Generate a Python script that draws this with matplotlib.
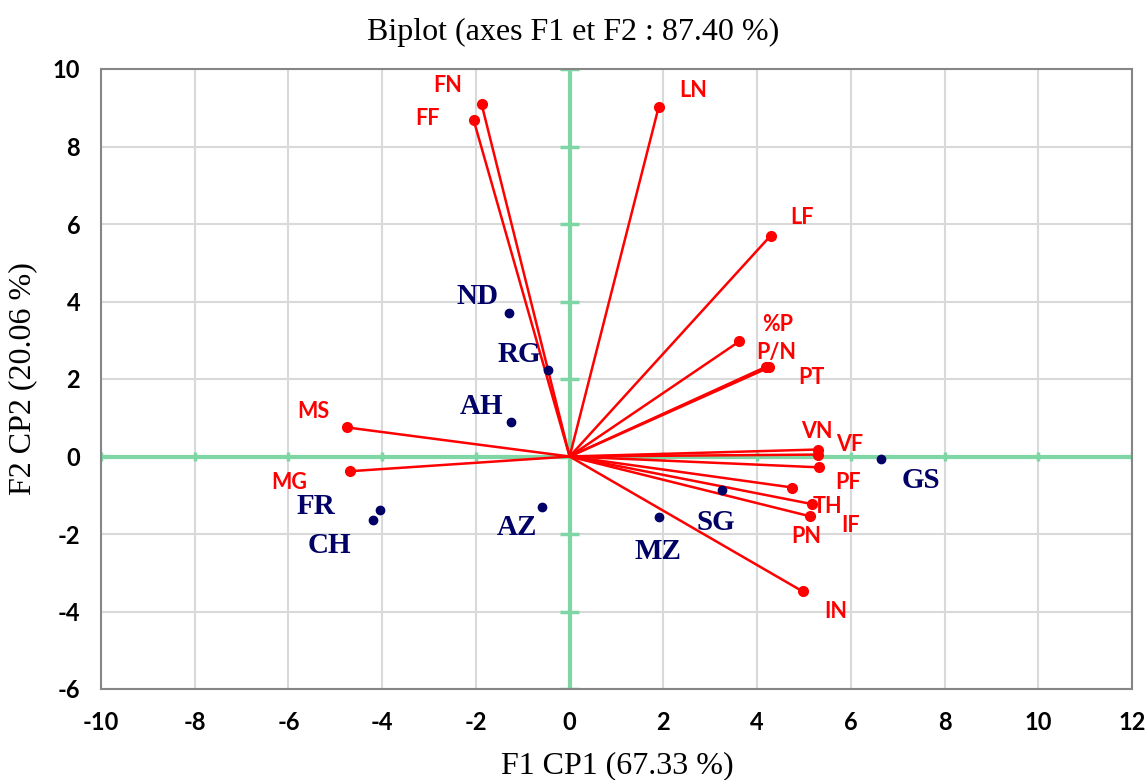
import matplotlib
matplotlib.use("Agg")
import matplotlib.pyplot as plt
import numpy as np

plt.rcParams["axes.unicode_minus"] = False

# Variables (red vectors)
var_names = ["FN", "FF", "LN", "LF", "%P", "P/N", "PT", "VN", "VF", "PF", "IF", "TH", "PN", "IN", "MS", "MG"]
var_x = [-1.88, -2.05, 1.90, 4.29, 3.62, 4.20, 4.26, 5.29, 5.31, 5.33, 4.75, 5.18, 5.12, 4.97, -4.75, -4.69]
var_y = [9.10, 8.69, 9.02, 5.70, 2.97, 2.32, 2.30, 0.18, 0.05, -0.28, -0.80, -1.23, -1.54, -3.48, 0.75, -0.38]

# Observations (navy points)
obs_names = ["ND", "RG", "AH", "FR", "CH", "AZ", "MZ", "SG", "GS"]
obs_x = [-1.30, -0.47, -1.26, -4.05, -4.20, -0.58, 1.90, 3.26, 6.65]
obs_y = [3.71, 2.22, 0.88, -1.39, -1.65, -1.31, -1.57, -0.87, -0.07]

x_ticks = list(range(-10, 13, 2))
y_ticks = list(range(-6, 11, 2))

title = "Biplot (axes F1 et F2 : 87.40 %)"
xlabel = "F1 CP1 (67.33 %)"
ylabel = "F2 CP2 (20.06 %)"

# label offsets in pixels (dx, dy) relative to the point
var_off = {"FN": (-34, 18), "FF": (-46, 1), "LN": (35, 16), "LF": (31, 18), "%P": (38, 17),
           "P/N": (10, 14), "PT": (42, -10), "VN": (-1, 18), "VF": (31, 10), "PF": (29, -15),
           "IF": (58, -38), "TH": (15, -2), "PN": (-3, -20), "IN": (33, -20),
           "MS": (-34, 16), "MG": (-61, -11)}
obs_off = {"ND": (-31, 16), "RG": (-28, 16), "AH": (-29, 16), "FR": (-64, 4), "CH": (-43, -25),
           "AZ": (-26, -20), "MZ": (-1, -34), "SG": (-7, -32), "GS": (40, -21)}

W, H = 1147, 780
fig = plt.figure(figsize=(W / 100, H / 100), dpi=100)
ax = fig.add_axes([101 / W, (780 - 689) / H, (1132 - 101) / W, (689 - 69) / H])

ax.set_xlim(-10, 12)
ax.set_ylim(-6, 10)
ax.set_xticks(x_ticks)
ax.set_yticks(y_ticks)
ax.grid(True, color="#d9d9d9", lw=1.5, zorder=0)
ax.set_axisbelow(True)
for s in ax.spines.values():
    s.set_color("#868686")
    s.set_linewidth(1.5)
ax.tick_params(length=0)
ax.tick_params(axis="x", pad=16)
ax.tick_params(axis="y", pad=15)
ax.set_xticklabels([str(t) for t in x_ticks], fontsize=17, fontweight="bold", family="Lato")
ax.set_yticklabels([str(t) for t in y_ticks], fontsize=17, fontweight="bold", family="Lato")

green = "#7dd6a3"
ax.axhline(0, color=green, lw=3, zorder=1)
ax.axvline(0, color=green, lw=3, zorder=1)
# small green tick marks on the zero lines
for xt in x_ticks:
    ax.plot([xt, xt], [-0.12, 0.12], color=green, lw=2.5, zorder=1, solid_capstyle="butt")
for yt in y_ticks:
    ax.plot([-0.2, 0.2], [yt, yt], color=green, lw=2.5, zorder=1, solid_capstyle="butt")

red = "#ff0000"
for n, x, y in zip(var_names, var_x, var_y):
    ax.plot([0, x], [0, y], color=red, lw=1.8, zorder=3)
ax.plot(var_x, var_y, "o", color=red, ms=7, zorder=4, ls="none")
for n, x, y in zip(var_names, var_x, var_y):
    dx, dy = var_off[n]
    ax.annotate(n, (x, y), xytext=(dx, dy), textcoords="offset pixels", ha="center", va="center",
                color=red, fontsize=15.5, fontweight="bold", family="Lato", zorder=5)

navy = "#000066"
ax.plot(obs_x, obs_y, "o", color=navy, ms=6, zorder=4, ls="none")
for n, x, y in zip(obs_names, obs_x, obs_y):
    dx, dy = obs_off[n]
    ax.annotate(n, (x, y), xytext=(dx, dy), textcoords="offset pixels", ha="center", va="center",
                color=navy, fontsize=21, fontweight="bold", family="Liberation Serif", zorder=5)

fig.text(573 / W, 1 - 32 / H, title, ha="center", va="center", fontsize=23, family="Liberation Serif")
fig.text(617 / W, 1 - 766 / H, xlabel, ha="center", va="center", fontsize=23, family="Liberation Serif")
fig.text(23 / W, 1 - 379 / H, ylabel, ha="center", va="center", rotation=90, fontsize=23, family="Liberation Serif")

fig.savefig("out.png", dpi=100)
